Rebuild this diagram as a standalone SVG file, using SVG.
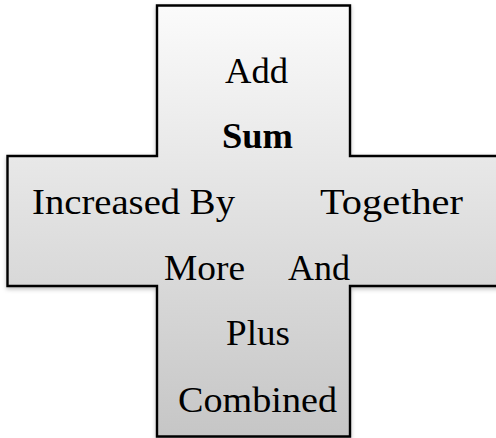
<svg xmlns="http://www.w3.org/2000/svg" width="496" height="438" viewBox="0 0 496 438">
<defs>
<linearGradient id="g" x1="0" y1="0" x2="0" y2="1">
<stop offset="0" stop-color="#fbfbfb"/>
<stop offset="0.5" stop-color="#e0e0e0"/>
<stop offset="1" stop-color="#c6c6c6"/>
</linearGradient>
<filter id="sh" x="-5%" y="-5%" width="110%" height="110%">
<feDropShadow dx="0" dy="2" stdDeviation="2" flood-color="#000" flood-opacity="0.25"/>
</filter>
<style>
text{font-family:"Liberation Serif","Times New Roman",serif;font-size:36px;fill:#000}
.b{font-weight:bold}
</style>
</defs>
<g id="cross">
<path d="M157,5.5 H350 V156 H500 V286 H350 V436.5 H157 V286 H7.5 V156 H157 Z" fill="url(#g)" stroke="#000" stroke-width="2.4" filter="url(#sh)"/>
</g>
<g id="labels">
<text x="225" y="83" textLength="63" lengthAdjust="spacingAndGlyphs">Add</text>
<text class="b" x="222" y="148" textLength="71" lengthAdjust="spacingAndGlyphs">Sum</text>
<text x="32" y="214" textLength="203" lengthAdjust="spacingAndGlyphs">Increased By</text>
<text x="320" y="214" textLength="143" lengthAdjust="spacingAndGlyphs">Together</text>
<text x="164" y="280" textLength="81" lengthAdjust="spacingAndGlyphs">More</text>
<text x="288" y="280" textLength="62" lengthAdjust="spacingAndGlyphs">And</text>
<text x="226" y="345" textLength="64" lengthAdjust="spacingAndGlyphs">Plus</text>
<text x="178" y="412" textLength="159" lengthAdjust="spacingAndGlyphs">Combined</text>
</g>
</svg>
